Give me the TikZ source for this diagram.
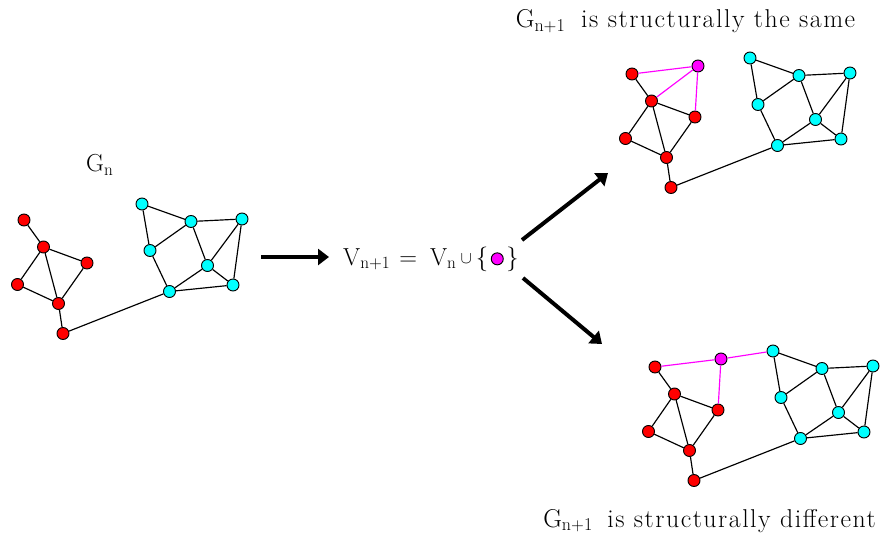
\documentclass[tikz,border=0pt]{standalone}
\usepackage{fontspec}
\setmainfont{Latin Modern Roman}[LetterSpace=6]
\usepackage{tikz}
\usetikzlibrary{arrows.meta,positioning}

\definecolor{vred}{RGB}{255,0,0}
\definecolor{vcyan}{RGB}{0,255,255}
\definecolor{vmag}{RGB}{255,0,255}

\tikzset{
  vtx/.style={circle, draw=black, line width=0.8pt, fill=#1, inner sep=0pt, minimum size=0.36cm},
  link/.style={line width=1pt},
  newlink/.style={line width=1pt, draw=vmag},
  bigarrow/.style={line width=3.4pt, -{Triangle[length=3.3mm,width=4.8mm]}},
  lbl/.style={font=\fontsize{21}{25}\selectfont, inner sep=0pt},
  title/.style={font=\fontsize{22}{26}\selectfont, inner sep=0pt, anchor=base},
}

% one copy of the graph G_n: #1 name prefix, #2 shift
\newcommand{\drawgraph}[2]{%
  \begin{scope}[shift={#2}]
    \foreach \n/\x/\y in {r1/24/220, r2/43.5/247, r3/87/263, r4/17.5/284.5, r5/58.5/303.5, r6/63/333.5}
      \node[vtx=vred] (#1-\n) at (\x,\y) {};
    \foreach \n/\x/\y in {c1/142/204, c2/191/221.5, c3/242/219, c4/150/250.5, c5/207.5/265.5, c6/233/285, c7/169.5/291.5}
      \node[vtx=vcyan] (#1-\n) at (\x,\y) {};
    \foreach \a/\b in {r1/r2, r2/r3, r2/r4, r2/r5, r3/r5, r4/r5, r5/r6, r6/c7,
                       c1/c2, c1/c4, c2/c4, c2/c3, c2/c5, c3/c5, c3/c6, c5/c6, c5/c7, c4/c7, c7/c6}
      \draw[link] (#1-\a) -- (#1-\b);
  \end{scope}}

\begin{document}
\begin{tikzpicture}[x=0.03cm, y=-0.03cm]
  \useasboundingbox (0,0) rectangle (882,534);

  % G_n
  \drawgraph{a}{(0,0)}
  \node[lbl, anchor=base west] (ga) at (86,172) {G$_{\mathrm{n}}$};

  % V_{n+1}
  \node[lbl, anchor=base west] (eq) at (343,265) {V$_{\mathrm{n+1}}$ = \,V$_{\mathrm{n}}$\,\raisebox{1pt}{\fontsize{14}{16}\selectfont$\cup$}\,\{};
  \node[vtx=vmag, right=2pt of eq.east] (vnew) {};
  \node[lbl, anchor=base west, xshift=2pt] (rbr) at (vnew.east |- eq.base) {\}};

  % same structure
  \drawgraph{b}{(608,-146)}
  \node[vtx=vmag] (b-m) at (698,66) {};
  \foreach \v in {r1, r2, r3}
    \draw[newlink] (b-m) -- (b-\v);
  \node[title] (gb) at (685.5,28) {G$_{\mathrm{n+1}}$\hspace{0.25em} is structurally the same};

  % different structure
  \drawgraph{c}{(631,147)}
  \node[vtx=vmag] (c-m) at (721,359) {};
  \foreach \v in {r1, r3, c1}
    \draw[newlink] (c-m) -- (c-\v);
  \node[title] (gc) at (709.5,527) {G$_{\mathrm{n+1}}$\hspace{0.2em} is structurally different};

  % arrows
  \coordinate (p1) at (261,257);
  \coordinate (q1) at (329,257);
  \coordinate (p2) at (522,240);
  \coordinate (q2) at (608,173);
  \coordinate (p3) at (523,278);
  \coordinate (q3) at (602,344);
  \draw[bigarrow] (p1) -- (q1);
  \draw[bigarrow] (p2) -- (q2);
  \draw[bigarrow] (p3) -- (q3);
\end{tikzpicture}
\end{document}
